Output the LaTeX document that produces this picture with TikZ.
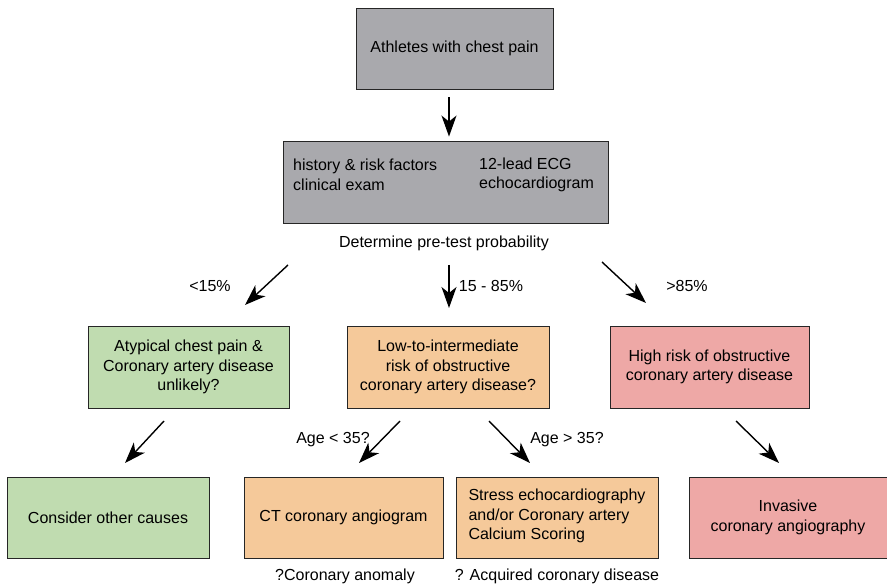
\documentclass[tikz,border=0pt]{standalone}
\usepackage{fontspec}
\setmainfont{Liberation Sans}
\usetikzlibrary{arrows.meta}
\definecolor{boxgray}{HTML}{A9A9AD}
\definecolor{boxgreen}{HTML}{C0DCB0}
\definecolor{boxorange}{HTML}{F5C99A}
\definecolor{boxred}{HTML}{EEA8A6}
\tikzset{
  box/.style={draw=black!85, line width=0.9pt, align=center, inner sep=0pt,
    minimum height=81pt, font=\fontsize{16}{19.5}\selectfont},
  lbl/.style={inner sep=0pt, font=\fontsize{16}{19.5}\selectfont},
  arr/.style={line width=1.4pt, -{Stealth[length=21pt,width=15pt,inset=6pt]}}
}
\begin{document}
\begin{tikzpicture}[x=1pt,y=-1pt]
\useasboundingbox (0,0) rectangle (887,585);

% top
\node[box, fill=boxgray, minimum width=197pt] (start) at (454.5,48.5) {Athletes with chest pain};
\node[box, fill=boxgray, minimum width=325pt, minimum height=82pt] (assess) at (445.5,182) {};
\node[lbl, align=left, anchor=west] (assessL) at (293,175) {history \& risk factors\\clinical exam};
\node[lbl, align=left, anchor=west] (assessR) at (479,175) {12-lead ECG\\echocardiogram};
\node[lbl] (pretest) at (444,243) {Determine pre-test probability};

% middle row
\node[box, fill=boxgreen, minimum width=201pt, minimum height=82pt] (low) at (188.5,367)
  {Atypical chest pain \&\\Coronary artery disease\\unlikely?};
\node[box, fill=boxorange, minimum width=202pt, minimum height=82pt] (mid) at (448,367)
  {Low-to-intermediate\\risk of obstructive\\coronary artery disease?};
\node[box, fill=boxred, minimum width=199pt, minimum height=82pt] (high) at (709.5,367)
  {High risk of obstructive\\coronary artery disease};

% bottom row
\node[box, fill=boxgreen, minimum width=202pt] (other) at (108,517.5) {Consider other causes};
\node[box, fill=boxorange, minimum width=199pt] (ct) at (343.5,517.5) {CT coronary angiogram};
\node[box, fill=boxorange, minimum width=202pt] (stress) at (557,517.5) {};
\node[lbl, align=left] (stressT) at (557,516) {Stress echocardiography\\and/or Coronary artery\\Calcium Scoring};
\node[box, fill=boxred, minimum width=198pt] (inv) at (788,517.5) {Invasive\\coronary angiography};

% labels
\node[lbl] (p1) at (210,286) {<15\%};
\node[lbl] (p2) at (491,286) {15 - 85\%};
\node[lbl] (p3) at (687,286) {>85\%};
\node[lbl] (a1) at (333,440) {Age < 35?};
\node[lbl] (a2) at (567,440) {Age > 35?};
\node[lbl] (q1) at (345,576) {?Coronary anomaly};
\node[lbl] (q2) at (557,576) {? Acquired coronary disease};

% connector end points
\coordinate (s1) at (288,265); \coordinate (e1) at (245,305);
\coordinate (s2) at (449,265); \coordinate (e2) at (449,308);
\coordinate (s3) at (602,262); \coordinate (e3) at (646,303);
\coordinate (s4) at (164,421); \coordinate (e4) at (125,463);
\coordinate (s5) at (400,421); \coordinate (e5) at (359,463);
\coordinate (s6) at (489,421); \coordinate (e6) at (530,463);
\coordinate (s7) at (736,421); \coordinate (e7) at (779,463);

\draw[arr, shorten <=8pt, shorten >=4pt] (start.south -| 449,0) -- (assess.north -| 449,0);
\draw[arr] (s1) -- (e1);
\draw[arr] (s2) -- (e2);
\draw[arr] (s3) -- (e3);
\draw[arr] (s4) -- (e4);
\draw[arr] (s5) -- (e5);
\draw[arr] (s6) -- (e6);
\draw[arr] (s7) -- (e7);
\end{tikzpicture}
\end{document}
